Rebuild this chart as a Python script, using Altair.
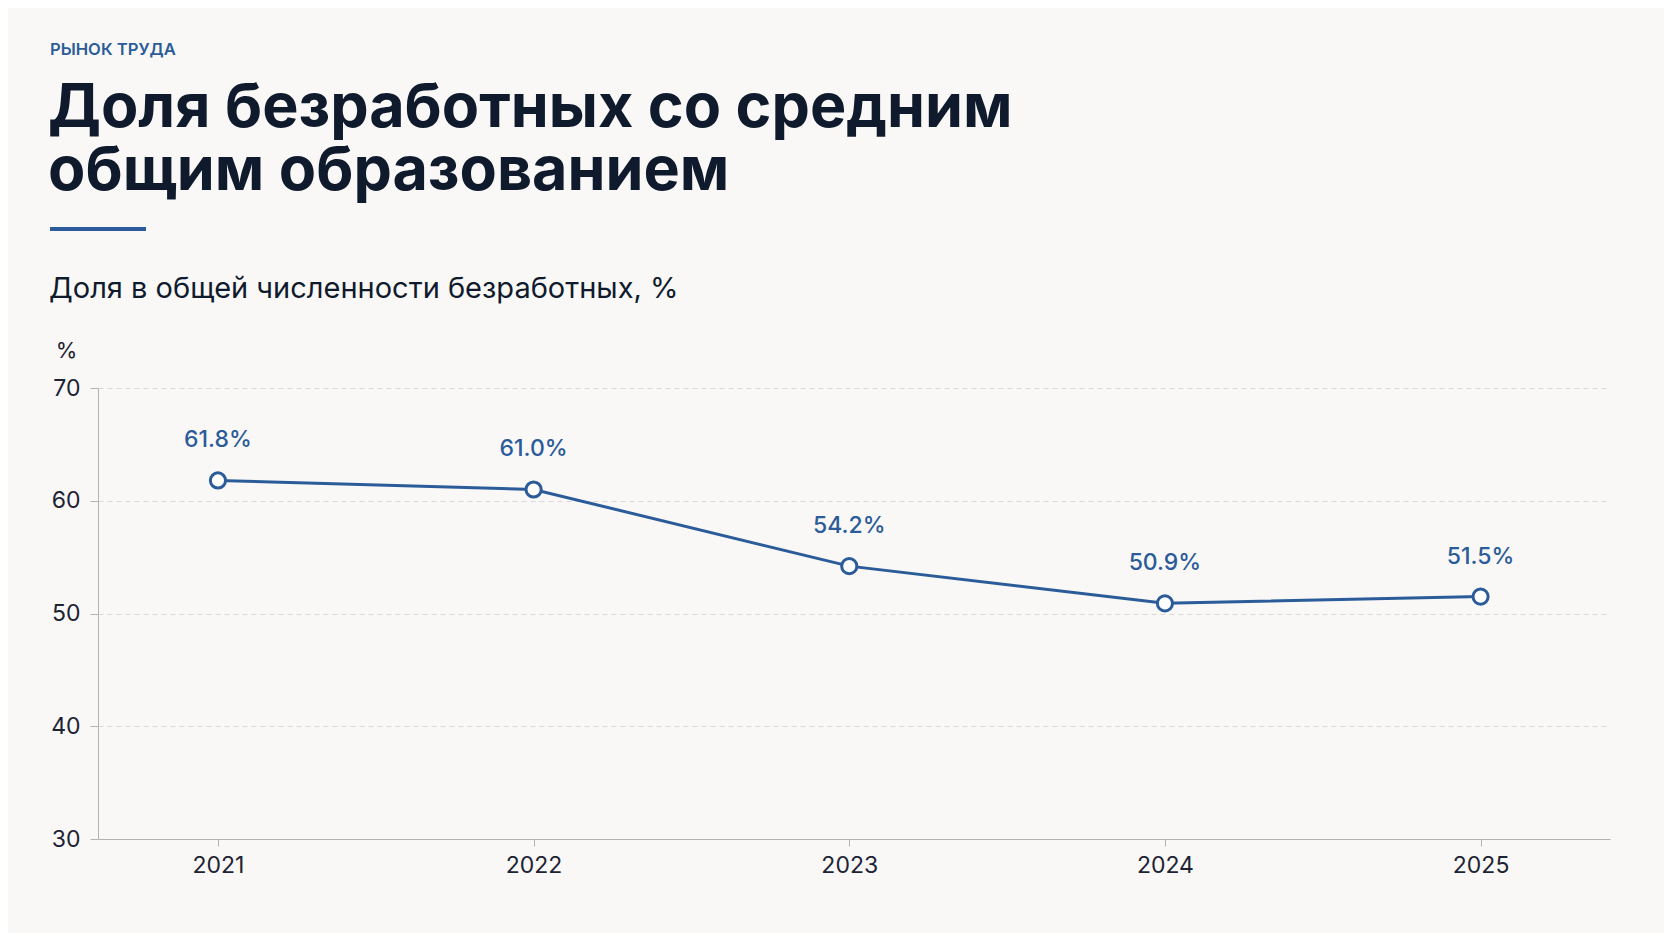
import altair as alt
import pandas as pd

years = [2021, 2022, 2023, 2024, 2025]
shares = [61.8, 61.0, 54.2, 50.9, 51.5]
labels = ["61.8%", "61.0%", "54.2%", "50.9%", "51.5%"]
y_ticks = [30, 40, 50, 60, 70]

kicker = "РЫНОК ТРУДА"
title_lines = ["Доля безработных со средним", "общим образованием"]
subtitle = "Доля в общей численности безработных, %"

BLUE = "#2b5c99"
DARK = "#0f1b2d"
FONT = "Inter"

df = pd.DataFrame({"year": years, "share": shares, "label": labels})
one = pd.DataFrame({"k": [0]})

x = alt.X("year:Q", scale=alt.Scale(domain=[2020.62, 2025.41], nice=False, zero=False),
          axis=alt.Axis(values=years, format="d", title=None, grid=False,
                        tickSize=7, labelPadding=8, labelFontSize=23,
                        labelColor="#1c2333", labelFont=FONT,
                        domainColor="#b3b3b3", tickColor="#b3b3b3",
                        labelFlush=False))
y = alt.Y("share:Q", scale=alt.Scale(domain=[30, 70], nice=False, zero=False),
          axis=alt.Axis(values=y_ticks, title="%", titleAngle=0, titleX=-32, titleY=-38,
                        titleAlign="center", titleBaseline="middle",
                        titleFontSize=22, titleFontWeight="normal", titleColor="#1c2333",
                        titleFont=FONT,
                        tickSize=8, labelPadding=10, labelFontSize=23,
                        labelColor="#1c2333", labelFont=FONT,
                        domainColor="#b3b3b3", tickColor="#b3b3b3",
                        gridColor="#d9d9d9", gridDash=[5, 4], gridWidth=1))

base = alt.Chart(df)
line = base.mark_line(color=BLUE, strokeWidth=3).encode(x=x, y=y)
points = base.mark_point(shape="circle", size=230, filled=True, fill="white",
                         stroke=BLUE, strokeWidth=3, opacity=1).encode(x="year:Q", y="share:Q")
texts = base.mark_text(dy=-40, fontSize=23, fontWeight=500, color=BLUE, font=FONT,
                       baseline="middle").encode(x="year:Q", y="share:Q", text="label:N")

def annot(txt, xv, yv, size, weight, color, **kw):
    return alt.Chart(one).mark_text(align="left", baseline="alphabetic", fontSize=size,
                                    fontWeight=weight, color=color, font=FONT, **kw).encode(
        x=alt.value(xv), y=alt.value(yv), text=alt.value(txt))

k = annot(kicker, -48, -333, 16.6, 600, BLUE)
t = annot(title_lines, -50, -261, 61, 700, DARK, lineHeight=63)
st = annot(subtitle, -49, -90, 29, 400, DARK)
bar = alt.Chart(one).mark_rule(color=BLUE, strokeWidth=4).encode(
    x=alt.value(-48), x2=alt.value(48), y=alt.value(-159))

chart = alt.layer(line, points, texts, k, t, st, bar).properties(
    width=1512, height=451,
    autosize=alt.AutoSizeParams(type="none"),
    padding={"left": 90, "top": 380, "right": 54, "bottom": 94},
    background="#f9f8f7",
).configure_view(stroke=None)

chart.save("out.html", embed_options={"renderer": "svg", "actions": False})
